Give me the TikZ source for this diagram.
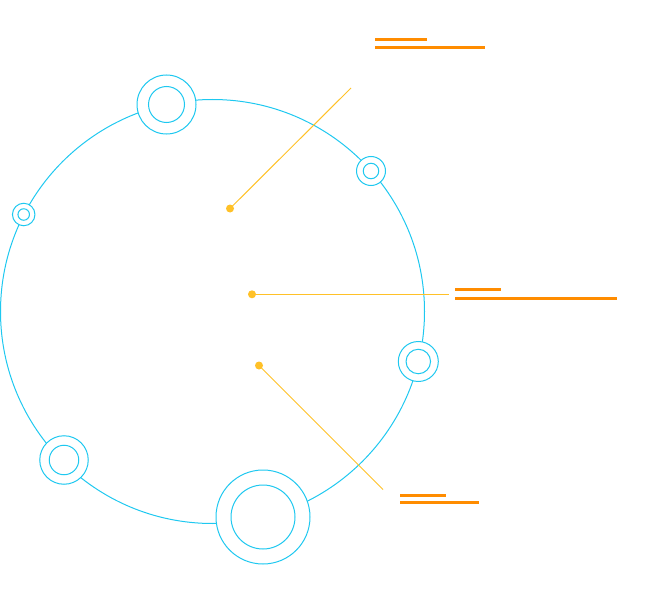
\documentclass[tikz,border=0pt]{standalone}
\definecolor{ringblue}{RGB}{30,200,240}
\definecolor{leadyellow}{RGB}{255,193,40}
\definecolor{barorange}{RGB}{255,140,0}
\begin{document}
\begin{tikzpicture}[x=1pt,y=-1pt,
  ring/.style={draw=ringblue,line width=1pt},
  outerring/.style={circle,draw=ringblue,line width=1pt,fill=white,inner sep=0pt,minimum size=#1},
  innerring/.style={circle,draw=ringblue,line width=1pt,inner sep=0pt,minimum size=#1},
  dotnode/.style={circle,fill=leadyellow,inner sep=0pt,minimum size=8pt},
  leader/.style={draw=leadyellow,line width=1pt},
  bar/.style={draw=barorange,line width=3pt}]
\useasboundingbox (0,0) rectangle (646,594);
% main circle
\node[circle,draw=ringblue,line width=1pt,inner sep=0pt,minimum size=424pt] (main) at (212.5,311.5) {};
% rings on the circle
\node[outerring=59pt] (r1o) at (166.5,104.5) {};
\node[innerring=36pt] (r1i) at (166.5,104.5) {};
\node[outerring=29pt] (r2o) at (371,171) {};
\node[innerring=15.5pt] (r2i) at (371,171) {};
\node[outerring=22.5pt] (r3o) at (23.7,214.5) {};
\node[innerring=11.5pt] (r3i) at (23.7,214.5) {};
\node[outerring=40pt] (r4o) at (418.3,361.5) {};
\node[innerring=24.5pt] (r4i) at (418.3,361.5) {};
\node[outerring=48.5pt] (r5o) at (64,460) {};
\node[innerring=29.5pt] (r5i) at (64,460) {};
\node[outerring=94pt] (r6o) at (263,517) {};
\node[innerring=64pt] (r6i) at (263,517) {};
% leaders
\coordinate (e1) at (351,88);
\coordinate (e2) at (449,294.3);
\coordinate (e3) at (383,489.5);
\node[dotnode] (d1) at (230,208.5) {};
\node[dotnode] (d2) at (252,294.3) {};
\node[dotnode] (d3) at (259,365.5) {};
\draw[leader] (d1.center) -- (e1);
\draw[leader] (d2.center) -- (e2);
\draw[leader] (d3.center) -- (e3);
% orange bars
\coordinate (a1) at (375,40); \coordinate (a2) at (427,40);
\coordinate (b1) at (375,47.5); \coordinate (b2) at (485,47.5);
\draw[bar] (a1) -- (a2);
\draw[bar] (b1) -- (b2);
\coordinate (c1) at (455,289.7); \coordinate (c2) at (501,289.7);
\coordinate (f1) at (455,298); \coordinate (f2) at (617,298);
\draw[bar] (c1) -- (c2);
\draw[bar] (f1) -- (f2);
\coordinate (g1) at (400,495.3); \coordinate (g2) at (446,495.3);
\coordinate (h1) at (400,502.7); \coordinate (h2) at (478.5,502.7);
\draw[bar] (g1) -- (g2);
\draw[bar] (h1) -- (h2);
\end{tikzpicture}
\end{document}
